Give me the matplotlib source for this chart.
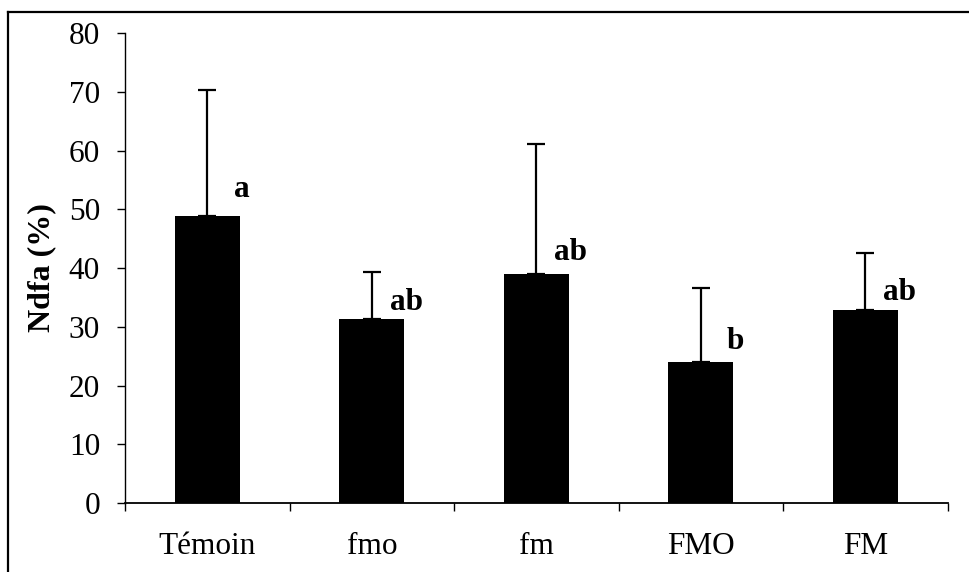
import numpy as np
import matplotlib
matplotlib.use('Agg')
import matplotlib.pyplot as plt
from matplotlib.lines import Line2D

plt.rcParams['font.family'] = ['Liberation Serif', 'DejaVu Serif']

treatments = ['Témoin', 'fmo', 'fm', 'FMO', 'FM']
ndfa      = np.array([48.9, 31.3, 39.0, 24.0, 32.9])
ndfa_err  = np.array([21.4,  8.0, 22.2, 12.6,  9.7])
letters   = ['a', 'ab', 'ab', 'b', 'ab']

# hand-placed letter heights above each bar (data units)
lift = [3.2, 1.5, 2.3, 2.3, 1.6]

fig = plt.figure(figsize=(9.69, 5.72), dpi=100)
ax = fig.add_axes([0.129, 0.1206, 0.849, 0.8216])

x = np.arange(len(treatments)) + 0.5
w = 0.395
ax.bar(x, ndfa, width=w, color='black', zorder=2)
ax.errorbar(x, ndfa, yerr=[np.zeros_like(ndfa_err), ndfa_err], fmt='none',
            ecolor='black', elinewidth=1.6, capsize=6.5, capthick=1.6, zorder=1)

for i in range(len(x)):
    ax.text(x[i] + w/2 + 0.012, ndfa[i] + lift[i], letters[i], ha='center',
            va='baseline', fontsize=22.5, fontweight='bold')

ax.set_xlim(0, len(treatments))
ax.set_ylim(0, 80)
ax.set_yticks(np.arange(0, 81, 10))
ax.set_xticks(np.arange(len(treatments) + 1))
ax.set_xticklabels([])
ax.set_xticks(x, minor=True)
ax.set_xticklabels(treatments, minor=True)
ax.tick_params(axis='x', which='minor', length=0, pad=21, labelsize=22.5)
ax.tick_params(axis='x', which='major', length=6, width=1, direction='out')
ax.tick_params(axis='y', length=6, width=1, pad=12, labelsize=22.5, direction='out')

for s in ['top', 'right']:
    ax.spines[s].set_visible(False)
ax.spines['left'].set_linewidth(1)
ax.spines['bottom'].set_linewidth(1.3)

ax.set_ylabel('Ndfa (%)', fontsize=23, fontweight='bold', labelpad=9)

# scanned frame around the figure
fy = 1 - 11.5/572
fx = 8/969
fig.add_artist(Line2D([fx, 1], [fy, fy], color='black', lw=1.6, transform=fig.transFigure))
fig.add_artist(Line2D([fx, fx], [0, fy], color='black', lw=1.6, transform=fig.transFigure))

fig.savefig('out.png', dpi=100)
